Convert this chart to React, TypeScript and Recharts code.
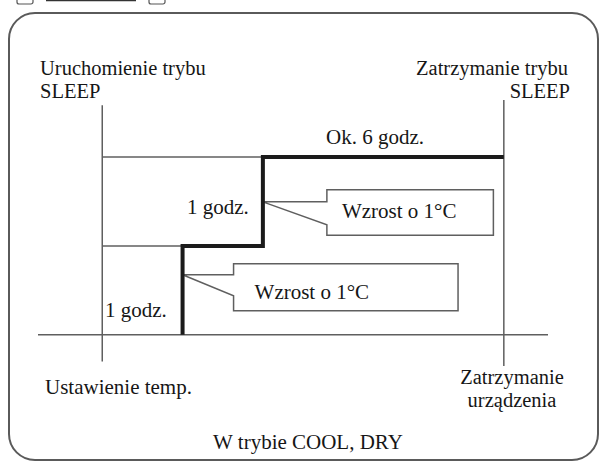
import { ComposedChart, Line, XAxis, YAxis, ReferenceLine, ReferenceArea } from "recharts";

// step schedule of the SLEEP mode (hours after start, temperature rise in °C)
const stepHours = [1, 2, 5];
const tempRise = [0, 1, 2];
const endHour = 5;

const data = stepHours.map((t, i) => ({ t, rise: tempRise[i] }));

const FONT = "'Liberation Serif', 'Times New Roman', serif";
const thin = "#5f5f5f";
const ink = "#161616";

type CalloutOpts = { inset: number; tipDy: number; baseDy: number; text: string; textDx: number; textDy: number };

const makeCallout = (o: CalloutOpts) => (props: any) => {
  const { x, y, width, height } = props;
  const left = x + o.inset;
  const right = x + width;
  const bottom = y + height;
  const d = `M${left},${y} L${right},${y} L${right},${bottom} L${left},${bottom} L${left},${y + o.baseDy} L${x},${y + o.tipDy} L${left},${y + o.tipDy} Z`;
  return (
    <g>
      <path d={d} fill="#fff" stroke={thin} strokeWidth={1.5} />
      <text x={left + o.textDx} y={y + o.textDy} fontFamily={FONT} fontSize={21} fill={ink}>
        {o.text}
      </text>
    </g>
  );
};

const Note = ({ x, y, anchor = "start", size = 21, children }: any) => (
  <text x={x} y={y} textAnchor={anchor} fontFamily={FONT} fontSize={size} fill={ink}>
    {children}
  </text>
);

export default function App() {
  return (
    <div style={{ position: "absolute", left: 0, top: 0, width: 601, height: 463, background: "#fff" }}>
      <ComposedChart
        width={601}
        height={463}
        data={data}
        margin={{ top: 100, right: 53, bottom: 97, left: 38 }}
      >
        <XAxis type="number" dataKey="t" domain={[-0.8, 5.55]} allowDataOverflow hide />
        <YAxis type="number" domain={[-0.35, 2.64]} allowDataOverflow hide />
        <ReferenceLine y={0} stroke={thin} strokeWidth={1.5} />
        <ReferenceLine segment={[{ x: 0, y: -0.3 }, { x: 0, y: 2.58 }]} stroke={thin} strokeWidth={1.5} />
        <ReferenceLine x={endHour} stroke={thin} strokeWidth={1.5} />
        <ReferenceLine segment={[{ x: 0, y: 2 }, { x: endHour, y: 2 }]} stroke={thin} strokeWidth={1.5} />
        <ReferenceLine segment={[{ x: 0, y: 1 }, { x: 1, y: 1 }]} stroke={thin} strokeWidth={1.5} />
        <ReferenceArea
          x1={2}
          x2={4.87}
          y1={1.12}
          y2={1.63}
          shape={makeCallout({ inset: 64, tipDy: 12, baseDy: 35, text: "Wzrost o 1°C", textDx: 15, textDy: 28 })}
        />
        <ReferenceArea
          x1={1}
          x2={4.43}
          y1={0.27}
          y2={0.8}
          shape={makeCallout({ inset: 51, tipDy: 11, baseDy: 32, text: "Wzrost o 1°C", textDx: 21, textDy: 35 })}
        />
        <Line
          type="stepBefore"
          dataKey="rise"
          stroke="#1b1b1b"
          strokeWidth={4}
          dot={false}
          isAnimationActive={false}
        />
      </ComposedChart>

      <svg width={601} height={463} style={{ position: "absolute", left: 0, top: 0, pointerEvents: "none" }}>
        {/* cut-off remnants of the previous figure */}
        <rect x={17} y={-5} width={16} height={9} rx={2} fill="none" stroke="#555" strokeWidth={1.2} />
        <line x1={46} y1={0.5} x2={136} y2={0.5} stroke="#333" strokeWidth={1.5} />
        <rect x={149} y={-5} width={16} height={9} rx={2} fill="none" stroke="#555" strokeWidth={1.2} />
        <rect x={9} y={13} width={589} height={447} rx={26} fill="none" stroke="#5a5a5a" strokeWidth={2} />

        <Note x={40} y={75} size={20.5}>Uruchomienie trybu</Note>
        <Note x={40} y={98} size={20.5}>SLEEP</Note>
        <Note x={568} y={75} anchor="end" size={20.5}>Zatrzymanie trybu</Note>
        <Note x={570} y={98} anchor="end" size={20.5}>SLEEP</Note>
        <Note x={375} y={144} anchor="middle">Ok. 6 godz.</Note>
        <Note x={187} y={214}>1 godz.</Note>
        <Note x={105} y={317}>1 godz.</Note>
        <Note x={45} y={394}>Ustawienie temp.</Note>
        <Note x={512} y={384} anchor="middle" size={20.5}>Zatrzymanie</Note>
        <Note x={512} y={407} anchor="middle" size={20.5}>urządzenia</Note>
        <Note x={308} y={449} anchor="middle">W trybie COOL, DRY</Note>
      </svg>
    </div>
  );
}
